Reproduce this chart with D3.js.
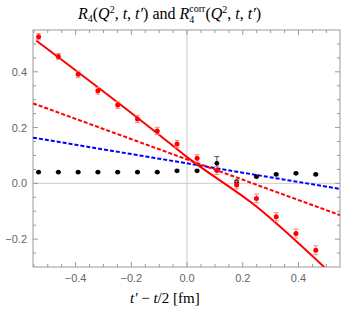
<!DOCTYPE html>
<html>
<head>
<meta charset="utf-8">
<script src="https://cdn.jsdelivr.net/npm/d3@7"></script>
<style>
  body { margin: 0; background: #fff; }
  svg { display: block; }
</style>
</head>
<body>
<div id="chart"></div>
<script>
// t' - t/2 in fm for each timeslice
const tShift = [-0.533, -0.462, -0.391, -0.320, -0.249, -0.178, -0.107, -0.036,
                 0.036, 0.107, 0.178, 0.249, 0.320, 0.391, 0.462];

// R4 (red points)
const r4 = [0.526, 0.455, 0.391, 0.332, 0.281, 0.231, 0.188, 0.141,
            0.090, 0.046, -0.006, -0.054, -0.120, -0.180, -0.240];
const r4Err = [0.011, 0.011, 0.012, 0.012, 0.012, 0.013, 0.013, 0.013,
               0.013, 0.014, 0.014, 0.015, 0.015, 0.016, 0.016];

// R4 corr (black points)
const r4corr = [0.040, 0.040, 0.040, 0.040, 0.040, 0.040, 0.040, 0.045,
                0.045, 0.072, 0.006, 0.024, 0.032, 0.036, 0.032];
const r4corrErr = [0.002, 0.002, 0.002, 0.002, 0.002, 0.002, 0.002, 0.003,
                   0.003, 0.024, 0.004, 0.003, 0.003, 0.003, 0.003];

// fit curves
const fitSolidX = [-0.541, -0.1075, 0.0, 0.249, 0.492];
const fitSolidY = [0.512, 0.180, 0.094, -0.083, -0.300];
const fitRedDashX = [-0.553, 0.549];
const fitRedDashY = [0.287, -0.114];
const fitBlueDashX = [-0.553, 0.549];
const fitBlueDashY = [0.164, -0.020];

const xTicks = [-0.4, -0.2, 0.0, 0.2, 0.4];
const yTicks = [-0.2, 0.0, 0.2, 0.4];

const width = 356, height = 320;
const margin = {top: 30, right: 16, bottom: 53, left: 33};

const svg = d3.select('#chart')
  .append('svg')
  .attr('width', width)
  .attr('height', height);

const x = d3.scaleLinear().domain([-0.553, 0.549]).range([margin.left, width - margin.right]);
const y = d3.scaleLinear().domain([-0.30, 0.55]).range([height - margin.bottom, margin.top]);

const frameColor = '#999';
const labelColor = '#666';
const sans = '"Liberation Sans", Arial, sans-serif';
const serif = '"Liberation Serif", "Times New Roman", serif';

// axes through the origin
svg.append('line')
  .attr('x1', x(0)).attr('x2', x(0))
  .attr('y1', y.range()[1]).attr('y2', y.range()[0])
  .style('stroke', '#ccc').style('stroke-width', 1);
svg.append('line')
  .attr('x1', x.range()[0]).attr('x2', x.range()[1])
  .attr('y1', y(0)).attr('y2', y(0))
  .style('stroke', '#ccc').style('stroke-width', 1);

// frame ticks (Mathematica style: inside, on all four sides)
const minorX = d3.range(-0.55, 0.56, 0.05).map(v => +v.toFixed(2)).filter(v => v > -0.553 && v < 0.549);
const minorY = d3.range(-0.30, 0.56, 0.05).map(v => +v.toFixed(2)).filter(v => v > -0.30 && v < 0.55);
const isMajor = v => Math.abs(v / 0.2 - Math.round(v / 0.2)) < 1e-6;

const ticks = svg.append('g').style('stroke', frameColor).style('stroke-width', 1);
minorX.forEach(v => {
  const len = isMajor(v) ? 5 : 3;
  ticks.append('line').attr('x1', x(v)).attr('x2', x(v))
    .attr('y1', y.range()[0]).attr('y2', y.range()[0] - len);
  ticks.append('line').attr('x1', x(v)).attr('x2', x(v))
    .attr('y1', y.range()[1]).attr('y2', y.range()[1] + len);
});
minorY.forEach(v => {
  const len = isMajor(v) ? 5 : 3;
  ticks.append('line').attr('y1', y(v)).attr('y2', y(v))
    .attr('x1', x.range()[0]).attr('x2', x.range()[0] + len);
  ticks.append('line').attr('y1', y(v)).attr('y2', y(v))
    .attr('x1', x.range()[1]).attr('x2', x.range()[1] - len);
});

const fmt = v => (v < 0 ? '\u2212' : '') + Math.abs(v).toFixed(1);

svg.append('g').selectAll('text')
  .data(xTicks).enter().append('text')
  .attr('x', d => x(d)).attr('y', y.range()[0] + 15)
  .attr('text-anchor', 'middle')
  .style('font-family', sans).style('font-size', '11px').style('fill', labelColor)
  .text(fmt);

svg.append('g').selectAll('text')
  .data(yTicks).enter().append('text')
  .attr('x', x.range()[0] - 6).attr('y', d => y(d) + 4)
  .attr('text-anchor', 'end')
  .style('font-family', sans).style('font-size', '11px').style('fill', labelColor)
  .text(fmt);

// frame
svg.append('rect')
  .attr('x', x.range()[0]).attr('y', y.range()[1])
  .attr('width', x.range()[1] - x.range()[0])
  .attr('height', y.range()[0] - y.range()[1])
  .style('fill', 'none').style('stroke', frameColor).style('stroke-width', 1);

// clip for fit curves
svg.append('clipPath').attr('id', 'plot-clip')
  .append('rect')
  .attr('x', x.range()[0]).attr('y', y.range()[1])
  .attr('width', x.range()[1] - x.range()[0])
  .attr('height', y.range()[0] - y.range()[1]);

const plot = svg.append('g').attr('clip-path', 'url(#plot-clip)');

const line = d3.line()
  .x(d => x(d[0]))
  .y(d => y(d[1]));

plot.append('path')
  .attr('d', line(fitBlueDashX.map((v, i) => [v, fitBlueDashY[i]])))
  .style('fill', 'none').style('stroke', '#0000ff')
  .style('stroke-width', 2).style('stroke-dasharray', '4,2');

plot.append('path')
  .attr('d', line(fitRedDashX.map((v, i) => [v, fitRedDashY[i]])))
  .style('fill', 'none').style('stroke', '#ff0000')
  .style('stroke-width', 2).style('stroke-dasharray', '4,2');

plot.append('path')
  .attr('d', line.curve(d3.curveMonotoneX)(fitSolidX.map((v, i) => [v, fitSolidY[i]])))
  .style('fill', 'none').style('stroke', '#ff0000')
  .style('stroke-width', 2);

// error bars + points
function drawSeries(vals, errs, barColor, dotColor, r) {
  const g = plot.append('g');
  tShift.forEach((t, i) => {
    const cx = x(t);
    const y0 = y(vals[i] - errs[i]), y1 = y(vals[i] + errs[i]);
    g.append('line').attr('x1', cx).attr('x2', cx).attr('y1', y0).attr('y2', y1)
      .style('stroke', barColor).style('stroke-width', 1);
    [y0, y1].forEach(yy => {
      g.append('line').attr('x1', cx - 2.5).attr('x2', cx + 2.5).attr('y1', yy).attr('y2', yy)
        .style('stroke', barColor).style('stroke-width', 1);
    });
  });
  g.selectAll('circle')
    .data(vals).enter().append('circle')
    .attr('cx', (d, i) => x(tShift[i]))
    .attr('cy', d => y(d))
    .attr('r', r)
    .style('fill', dotColor);
}

drawSeries(r4corr, r4corrErr, '#555', '#000', 2.4);
drawSeries(r4, r4Err, '#ff8080', '#ff0000', 2.5);

// small helper for rich text
function part(sel, txt, opts = {}) {
  const ts = sel.append('tspan').text(txt);
  if (opts.italic) ts.style('font-style', 'italic');
  if (opts.size) ts.style('font-size', opts.size);
  if (opts.dy !== undefined) ts.attr('dy', opts.dy);
  return ts;
}

// title
const title = svg.append('text')
  .attr('x', 0).attr('y', 19)
  .style('font-family', serif).style('font-size', '16px').style('fill', '#000');
part(title, 'R', {italic: true});
part(title, '4', {size: '10px', dy: 3});
part(title, '(', {dy: -3});
part(title, 'Q', {italic: true});
part(title, '2', {size: '10px', dy: -6});
part(title, ', ', {dy: 6});
part(title, 't', {italic: true});
part(title, ', ');
part(title, 't\u2032', {italic: true});
part(title, ') and ');
part(title, 'R', {italic: true});
const sub4 = part(title, '4', {size: '10px', dy: 4});
part(title, 'corr', {size: '10px', dy: -11})
  .attr('dx', -sub4.node().getComputedTextLength());
part(title, '(', {dy: 7});
part(title, 'Q', {italic: true});
part(title, '2', {size: '10px', dy: -6});
part(title, ', ', {dy: 6});
part(title, 't', {italic: true});
part(title, ', ');
part(title, 't\u2032', {italic: true});
part(title, ')');
const tw = title.node().getComputedTextLength();
title.attr('x', 172 - tw / 2);

// x label
const xl = svg.append('text')
  .attr('x', 130).attr('y', 303)
  .style('font-family', serif).style('font-size', '15px').style('fill', '#000');
part(xl, 't\u2032', {italic: true});
part(xl, ' \u2212 ');
part(xl, 't', {italic: true});
part(xl, '/2 [fm]');
</script>
</body>
</html>
